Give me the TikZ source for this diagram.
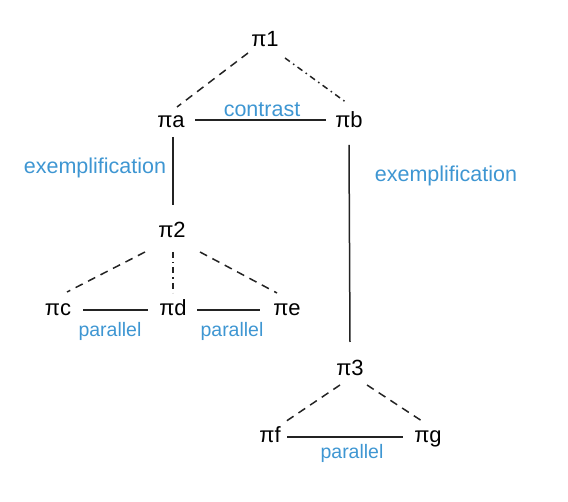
\documentclass[tikz,border=0pt]{standalone}
\usepackage{fontspec}
\setmainfont{Liberation Sans}
\definecolor{lblue}{RGB}{62,150,210}
\definecolor{lgray}{RGB}{35,35,35}
\begin{document}
\begin{tikzpicture}[x=1pt,y=-1pt,
  pinode/.style={anchor=base,inner sep=0pt,font=\fontsize{22}{26}\selectfont,text=black},
  lbl/.style={inner sep=0pt,font=\fontsize{21.5}{25}\selectfont,text=lblue},
  smalllbl/.style={inner sep=0pt,font=\fontsize{19.5}{23}\selectfont,text=lblue},
  solidline/.style={draw=lgray,line width=1.5pt},
  dashline/.style={draw=lgray,line width=1.5pt,dash pattern=on 8pt off 6pt},
  dotline/.style={draw=lgray,line width=1.5pt,dash pattern=on 6pt off 4pt on 1.5pt off 4pt}]
\useasboundingbox (0,0) rectangle (568,502);
\node[pinode] (p1) at (265,47) {π1};
\node[pinode] (pa) at (171,128) {πa};
\node[pinode] (pb) at (349,128) {πb};
\node[pinode] (p2) at (172,238) {π2};
\node[pinode] (pc) at (58,316) {πc};
\node[pinode] (pd) at (173,316) {πd};
\node[pinode] (pe) at (287,316) {πe};
\node[pinode] (p3) at (350,376) {π3};
\node[pinode] (pf) at (270,443) {πf};
\node[pinode] (pg) at (428,443) {πg};
% top
\draw[dashline] ([shift={(-17,6)}]p1.base) -- ([shift={(6,-21)}]pa.base);
\draw[dotline] ([shift={(20,11)}]p1.base) -- ([shift={(-2,-25)}]pb.base);
\draw[solidline] ([shift={(24,-8)}]pa.base) -- ([shift={(-23,-8)}]pb.base);
\node[lbl] (lc) at (262,110) {contrast};
% exemplification
\draw[solidline] ([shift={(2,9)}]pa.base) -- ([shift={(1,-33)}]p2.base);
\node[lbl] (le1) at (95,168) {exemplification};
\draw[solidline] ([shift={(0,17)}]pb.base) -- ([shift={(0,-34)}]p3.base);
\node[lbl] (le2) at (446,176) {exemplification};
% pi2 subtree
\draw[dashline] ([shift={(-27,14)}]p2.base) -- ([shift={(9,-24)}]pc.base);
\draw[dotline] ([shift={(1,14)}]p2.base) -- ([shift={(0,-23)}]pd.base);
\draw[dashline] ([shift={(28,14)}]p2.base) -- ([shift={(-10,-23)}]pe.base);
\draw[solidline] ([shift={(25,-6)}]pc.base) -- ([shift={(-25,-6)}]pd.base);
\draw[solidline] ([shift={(24,-6)}]pd.base) -- ([shift={(-27,-6)}]pe.base);
\node[smalllbl] (lp1) at (110,331) {parallel};
\node[smalllbl] (lp2) at (232,331) {parallel};
% pi3 subtree
\draw[dashline] ([shift={(-10,9)}]p3.base) -- ([shift={(15,-21)}]pf.base);
\draw[dashline] ([shift={(17,9)}]p3.base) -- ([shift={(-3,-20)}]pg.base);
\draw[solidline] ([shift={(17,-6)}]pf.base) -- ([shift={(-25,-6)}]pg.base);
\node[smalllbl] (lp3) at (352,453) {parallel};
\end{tikzpicture}
\end{document}
